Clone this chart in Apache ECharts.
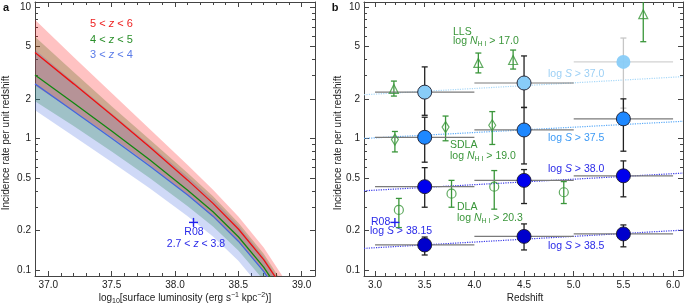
<!DOCTYPE html>
<html>
<head>
<meta charset="utf-8">
<script src="https://cdn.jsdelivr.net/npm/echarts@6.0.0/dist/echarts.min.js"></script>
<style>
html, body { margin: 0; padding: 0; background: #fff; }
#main { width: 685px; height: 307px; }
</style>
</head>
<body>
<div id="main"></div>
<script>
// ---- panel a: incidence rate vs surface luminosity ----
var lumX = [36.895, 37.2, 37.5, 37.8, 38.1, 38.3, 38.5, 38.7, 38.9, 39.1];
var redMid = [4.5, 2.60, 1.51, 0.861, 0.482, 0.321, 0.205, 0.120, 0.0618, 0.0276];
var redHi = [8.0, 4.17, 2.22, 1.18, 0.628, 0.408, 0.255, 0.148, 0.0755, 0.0336];
var redLo = [2.53, 1.62, 1.02, 0.627, 0.37, 0.253, 0.164, 0.098, 0.0506, 0.0227];
var greenMid = [3.04, 1.86, 1.14, 0.688, 0.404, 0.277, 0.179, 0.105, 0.054, 0.024];
var greenHi = [5.93, 3.20, 1.76, 0.983, 0.545, 0.363, 0.229, 0.1326, 0.0672, 0.0297];
var greenLo = [1.92, 1.243, 0.797, 0.5005, 0.305, 0.214, 0.1404, 0.0836, 0.0434, 0.0196];
var blueMid = [2.6, 1.61, 1.003, 0.618, 0.371, 0.2566, 0.1656, 0.0975, 0.05, 0.0223];
var blueHi = [4.72, 2.70, 1.553, 0.894, 0.512, 0.344, 0.218, 0.126, 0.0637, 0.0281];
var blueLo = [1.637, 1.039, 0.6624, 0.418, 0.2565, 0.1795, 0.1173, 0.069, 0.0354, 0.0158];
var r08Lum = [38.146, 0.23];

// ---- panel b: incidence rate vs redshift ----
var zBins = [3.5, 4.5, 5.5];
var zBinLo = [3.0, 4.0, 5.0];
var zBinHi = [4.0, 5.0, 6.0];
var s370 = [2.25, 2.64, 3.82], s370Lo = [1.5, 1.72, 1.7], s370Hi = [3.5, 4.24, 5.8];
var s375 = [1.02, 1.16, 1.41], s375Lo = [0.66, 0.64, 0.8], s375Hi = [1.45, 1.72, 2.0];
var s380 = [0.43, 0.48, 0.52], s380Lo = [0.30, 0.32, 0.36], s380Hi = [0.6, 0.58, 0.675];
var s385 = [0.155, 0.18, 0.188], s385Lo = [0.13, 0.142, 0.15], s385Hi = [0.178, 0.224, 0.22];

var fitZ = [2.889, 6.10];
var fit370 = [2.15, 2.95];
var fit375 = [1.0, 1.35];
var fit380 = [0.40, 0.545];
var fit385 = [0.146, 0.201];

var llsZ = [3.19, 4.04, 4.39, 5.70], lls = [2.38, 3.75, 3.95, 8.8], llsLo = [2.1, 3.15, 3.37, 5.44], llsHi = [2.73, 4.46, 4.7, 12];
var sdlaZ = [3.2, 3.71, 4.18], sdla = [0.98, 1.22, 1.26], sdlaLo = [0.79, 0.96, 0.9], sdlaHi = [1.13, 1.48, 1.6];
var dlaZ = [3.24, 3.77, 4.2, 4.9], dla = [0.286, 0.38, 0.43, 0.39], dlaLo = [0.21, 0.30, 0.29, 0.32], dlaHi = [0.35, 0.48, 0.57, 0.47];
var r08Z = [3.2, 0.23];

// ticks
var yMajor = [0.1, 0.2, 0.5, 1, 2, 5, 10];
var yMinor = [0.3, 0.4, 0.6, 0.7, 0.8, 0.9, 3, 4, 6, 7, 8, 9];
var lumMajor = [37.0, 37.5, 38.0, 38.5, 39.0];
var zMajor = [3.0, 3.5, 4.0, 4.5, 5.0, 5.5, 6.0];

var FONT = '"Liberation Sans", Arial, sans-serif';
var GREEN = '#3a963a';
var BLUE_TXT = '#2a2ae8';

function lg(v) { return Math.log10(v); }
function steps(a, b) {
    var out = [];
    for (var i = Math.round(a * 10); i <= Math.round(b * 10); i++) out.push(i / 10);
    return out;
}

var yMin = lg(0.09), yMax = lg(10.9);

function xAxes(grid, min, max, majors, minors) {
    var line = { show: true, onZero: false, lineStyle: { color: '#444', width: 1 } };
    var noLine = { show: false, onZero: false };
    function ax(pos, showLine, tickVals, len, label) {
        return {
            type: 'value', gridIndex: grid, position: pos, min: min, max: max,
            splitLine: { show: false },
            axisLine: showLine ? line : noLine,
            axisTick: { show: true, inside: true, length: len, customValues: tickVals, lineStyle: { color: '#444' } },
            axisLabel: label ? {
                customValues: majors, color: '#222', fontSize: 10, fontFamily: FONT, margin: 4,
                formatter: function (v) { return v.toFixed(1); }
            } : { show: false }
        };
    }
    return [
        ax('bottom', true, majors, 5, true),
        ax('bottom', false, minors, 3, false),
        ax('top', true, majors, 5, false),
        ax('top', false, minors, 3, false)
    ];
}

function yAxes(grid) {
    var line = { show: true, onZero: false, lineStyle: { color: '#444', width: 1 } };
    var noLine = { show: false, onZero: false };
    var maj = yMajor.map(lg), min = yMinor.map(lg);
    function ax(pos, showLine, tickVals, len, label) {
        return {
            type: 'value', gridIndex: grid, position: pos, min: yMin, max: yMax,
            splitLine: { show: false },
            axisLine: showLine ? line : noLine,
            axisTick: { show: true, inside: true, length: len, customValues: tickVals, lineStyle: { color: '#444' } },
            axisLabel: label ? {
                customValues: maj, color: '#222', fontSize: 10, fontFamily: FONT, margin: 4,
                formatter: function (v) { return String(+Math.pow(10, v).toPrecision(2)); }
            } : { show: false }
        };
    }
    return [
        ax('left', true, maj, 5, true),
        ax('left', false, min, 3, false),
        ax('right', true, maj, 5, false),
        ax('right', false, min, 3, false)
    ];
}

function bandSeries(lo, hi, fill) {
    return {
        type: 'custom', xAxisIndex: 0, yAxisIndex: 0, clip: true, silent: true, z: 1,
        data: [[lumX[0], lg(lo[0])]],
        renderItem: function (params, api) {
            var pts = [];
            for (var i = 0; i < lumX.length; i++) pts.push(api.coord([lumX[i], lg(hi[i])]));
            for (var j = lumX.length - 1; j >= 0; j--) pts.push(api.coord([lumX[j], lg(lo[j])]));
            return { type: 'polygon', shape: { points: pts }, style: { fill: fill } };
        }
    };
}

function curve(mid, color) {
    return {
        type: 'line', xAxisIndex: 0, yAxisIndex: 0, showSymbol: false, silent: true, z: 3,
        data: lumX.map(function (x, i) { return [x, lg(mid[i])]; }),
        lineStyle: { color: color, width: 1.3 }
    };
}

function cross(xi, yi, pt, color) {
    return {
        type: 'custom', xAxisIndex: xi, yAxisIndex: yi, silent: true, z: 5,
        data: [[pt[0], lg(pt[1])]],
        renderItem: function (params, api) {
            var c = api.coord([api.value(0), api.value(1)]);
            var s = { stroke: color, lineWidth: 1.4 };
            return {
                type: 'group', children: [
                    { type: 'line', shape: { x1: c[0] - 4.5, y1: c[1], x2: c[0] + 4.5, y2: c[1] }, style: s },
                    { type: 'line', shape: { x1: c[0], y1: c[1] - 4.5, x2: c[0], y2: c[1] + 4.5 }, style: s }
                ]
            };
        }
    };
}

function errorBars(rows, vColor, hColor, faint) {
    return {
        type: 'custom', xAxisIndex: 4, yAxisIndex: 4, clip: true, silent: true, z: 3,
        data: rows,
        renderItem: function (params, api) {
            var x = api.value(0), y = api.value(1);
            var top = api.coord([x, api.value(3)]);
            var bot = api.coord([x, api.value(2)]);
            var isFaint = faint && faint.indexOf(params.dataIndex) >= 0;
            var vc = isFaint ? '#c6c6c6' : vColor;
            var hc = isFaint ? '#d2d2d2' : hColor;
            var kids = [];
            if (api.value(4) !== api.value(5)) {
                var l = api.coord([api.value(4), y]), r = api.coord([api.value(5), y]);
                kids.push({ type: 'line', shape: { x1: l[0], y1: l[1], x2: r[0], y2: r[1] }, style: { stroke: hc, lineWidth: 1.2 } });
            }
            var vs = { stroke: vc, lineWidth: 1.3 };
            kids.push({ type: 'line', shape: { x1: top[0], y1: top[1], x2: bot[0], y2: bot[1] }, style: vs });
            kids.push({ type: 'line', shape: { x1: top[0] - 3, y1: top[1], x2: top[0] + 3, y2: top[1] }, style: vs });
            kids.push({ type: 'line', shape: { x1: bot[0] - 3, y1: bot[1], x2: bot[0] + 3, y2: bot[1] }, style: vs });
            return { type: 'group', children: kids };
        }
    };
}

function binRows(v, lo, hi) {
    return zBins.map(function (z, i) { return [z, lg(v[i]), lg(lo[i]), lg(hi[i]), zBinLo[i], zBinHi[i]]; });
}
function absRows(zs, v, lo, hi) {
    return zs.map(function (z, i) { return [z, lg(v[i]), lg(lo[i]), lg(hi[i]), z, z]; });
}

function dots(v, color, faint) {
    return {
        type: 'scatter', xAxisIndex: 4, yAxisIndex: 4, symbol: 'circle', symbolSize: 14, silent: true, z: 4,
        data: zBins.map(function (z, i) {
            var item = { value: [z, lg(v[i])] };
            if (faint && faint.indexOf(i) >= 0) item.itemStyle = { borderWidth: 0, opacity: 0.95 };
            return item;
        }),
        itemStyle: { color: color, borderColor: '#1a1a2a', borderWidth: 0.9, opacity: 1 }
    };
}

function hollow(zs, v, symbol, size) {
    return {
        type: 'scatter', xAxisIndex: 4, yAxisIndex: 4, symbol: symbol, symbolSize: size, silent: true, z: 4,
        data: zs.map(function (z, i) { return [z, lg(v[i])]; }),
        itemStyle: { color: 'rgba(255,255,255,0)', borderColor: GREEN, borderWidth: 1.2 }
    };
}

function fitLine(v, color) {
    return {
        type: 'line', xAxisIndex: 4, yAxisIndex: 4, showSymbol: false, silent: true, z: 2,
        data: fitZ.map(function (z, i) { return [z, lg(v[i])]; }),
        lineStyle: { color: color, width: 1.2, type: 'dotted' }
    };
}

function txt(x, y, text, color, size, align, extra, rot) {
    var o = {
        type: 'text', x: x, y: y, silent: true, z: 10,
        style: {
            text: text, fill: color, fontSize: size || 10.5, fontFamily: FONT,
            align: align || 'left', verticalAlign: 'middle'
        }
    };
    if (rot) o.rotation = rot;
    if (extra) for (var k in extra) o.style[k] = extra[k];
    return o;
}

function richTxt(x, y, text, color, size, align) {
    var fs = size || 10.5;
    return txt(x, y, text, color, fs, align, {
        rich: {
            a: { fill: color, fontSize: fs, fontFamily: FONT, lineHeight: 13, verticalAlign: 'middle' },
            i: { fill: color, fontSize: fs, fontFamily: FONT, fontStyle: 'italic', lineHeight: 13, verticalAlign: 'middle' },
            s: { fill: color, fontSize: 7, fontFamily: FONT, lineHeight: 5, verticalAlign: 'bottom' },
            u: { fill: color, fontSize: 7, fontFamily: FONT, lineHeight: 5, verticalAlign: 'top' }
        }
    });
}

var option = {
    animation: false,
    backgroundColor: '#fff',
    grid: [
        { left: 35, top: 2, width: 280, height: 274 },
        { left: 364, top: 2, width: 319, height: 274 }
    ],
    xAxis: xAxes(0, 36.895, 39.105, lumMajor, steps(36.9, 39.0))
        .concat(xAxes(1, 2.889, 6.10, zMajor, steps(3.0, 6.0))),
    yAxis: yAxes(0).concat(yAxes(1)),
    series: [
        bandSeries(greenLo, greenHi, 'rgba(0,128,0,0.25)'),
        bandSeries(blueLo, blueHi, 'rgba(65,105,225,0.25)'),
        bandSeries(redLo, redHi, 'rgba(255,0,0,0.24)'),
        curve(blueMid, '#4466dd'),
        curve(greenMid, '#118811'),
        curve(redMid, '#ee1111'),
        cross(0, 0, r08Lum, '#2020ee'),

        fitLine(fit370, '#a8d8f8'),
        fitLine(fit375, '#5aaaf8'),
        fitLine(fit380, '#3a3ae8'),
        fitLine(fit385, '#3a3ae8'),
        errorBars(absRows(llsZ, lls, llsLo, llsHi), GREEN, GREEN),
        errorBars(absRows(sdlaZ, sdla, sdlaLo, sdlaHi), GREEN, GREEN),
        errorBars(absRows(dlaZ, dla, dlaLo, dlaHi), GREEN, GREEN),
        hollow(llsZ, lls, 'triangle', [9, 9]),
        hollow(sdlaZ, sdla, 'diamond', [7, 11]),
        hollow(dlaZ, dla, 'circle', 9),
        errorBars(binRows(s370, s370Lo, s370Hi), '#222', '#7a7a7a', [2]),
        errorBars(binRows(s375, s375Lo, s375Hi), '#222', '#7a7a7a'),
        errorBars(binRows(s380, s380Lo, s380Hi), '#222', '#7a7a7a'),
        errorBars(binRows(s385, s385Lo, s385Hi), '#222', '#7a7a7a'),
        dots(s370, '#88ccf8', [2]),
        dots(s375, '#1e88ff'),
        dots(s380, '#0000ee'),
        dots(s385, '#0000cc'),
        cross(4, 4, r08Z, '#2020ee')
    ],
    graphic: [
        txt(6, 8, 'a', '#111', 11, 'center', { fontWeight: 'bold' }),
        txt(335, 8, 'b', '#111', 11, 'center', { fontWeight: 'bold' }),
        txt(6, 143, 'Incidence rate per unit redshift', '#222', 10, 'center', null, Math.PI / 2),
        txt(338, 143, 'Incidence rate per unit redshift', '#222', 10, 'center', null, Math.PI / 2),
        richTxt(185, 298, '{a|log}{s|10}{a|[surface luminosity (erg s}{u|\u22121}{a| kpc}{u|\u22122}{a|)]}', '#222', 10, 'center'),
        txt(525, 298, 'Redshift', '#222', 10, 'center'),

        richTxt(90, 24, '{a|5 < }{i|z}{a| < 6}', '#ee2222', 11),
        richTxt(90, 40, '{a|4 < }{i|z}{a| < 5}', '#2a8f2a', 11),
        richTxt(90, 55, '{a|3 < }{i|z}{a| < 4}', '#5a7be8', 11),
        txt(194, 232, 'R08', BLUE_TXT, 10.5, 'center'),
        richTxt(196, 244, '{a|2.7 < }{i|z}{a| < 3.8}', BLUE_TXT, 10.5, 'center'),

        txt(453, 32, 'LLS', GREEN, 10.5),
        richTxt(453, 41, '{a|log }{i|N}{s|H I}{a| > 17.0}', GREEN),
        txt(450, 145, 'SDLA', GREEN, 10.5),
        richTxt(450, 156, '{a|log }{i|N}{s|H I}{a| > 19.0}', GREEN),
        txt(457, 207, 'DLA', GREEN, 10.5),
        richTxt(457, 218, '{a|log }{i|N}{s|H I}{a| > 20.3}', GREEN),

        richTxt(548, 74, '{a|log }{i|S}{a| > 37.0}', '#9dd0f5'),
        richTxt(548, 138, '{a|log }{i|S}{a| > 37.5}', '#3d9af5'),
        richTxt(548, 169, '{a|log }{i|S}{a| > 38.0}', BLUE_TXT),
        richTxt(548, 246, '{a|log }{i|S}{a| > 38.5}', BLUE_TXT),
        txt(371, 222, 'R08', BLUE_TXT, 10.5),
        richTxt(370, 231, '{a|log }{i|S}{a| > 38.15}', BLUE_TXT)
    ]
};

var myChart = echarts.init(document.getElementById('main'));
myChart.setOption(option);
</script>
</body>
</html>
